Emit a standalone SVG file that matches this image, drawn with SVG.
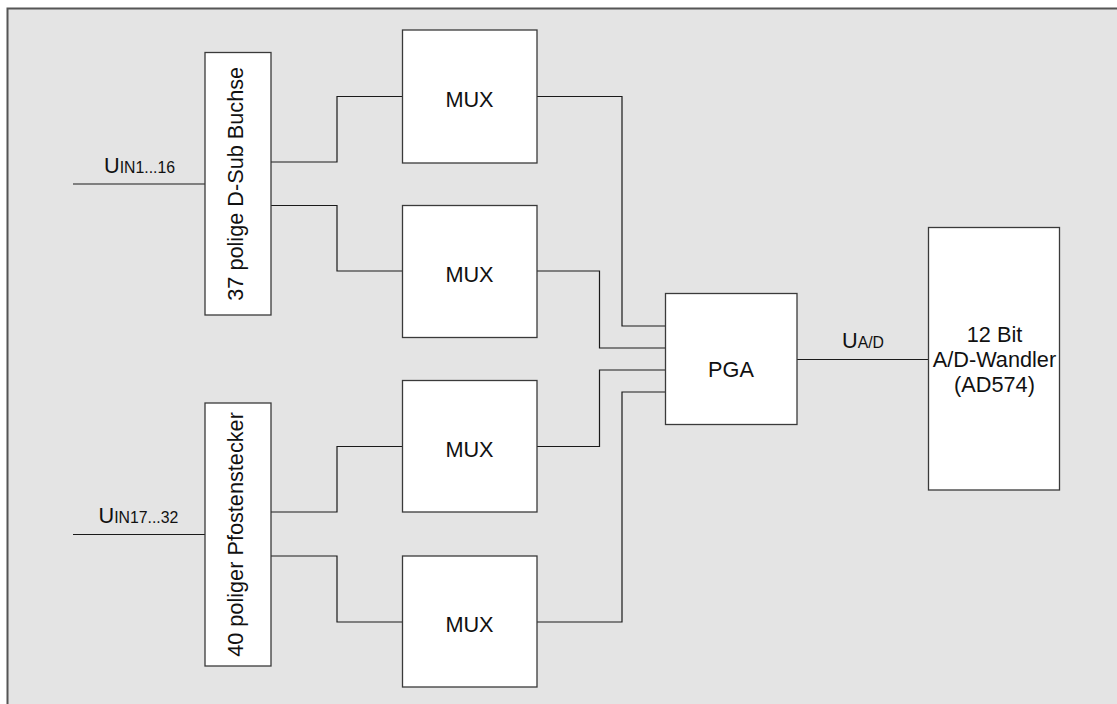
<svg xmlns="http://www.w3.org/2000/svg" width="1117" height="704" viewBox="0 0 1117 704">
<style>
.box{fill:#ffffff;stroke:#3a3a3a;stroke-width:1.3}
.wire{fill:none;stroke:#1a1a1a;stroke-width:1.2}
.t{font-family:"Liberation Sans",Arial,sans-serif;font-size:21.7px;fill:#111}
.s{font-size:15.8px}
</style>
<rect x="0" y="0" width="1117" height="704" fill="#ffffff"/>
<rect x="8" y="9" width="1109" height="695" fill="#e4e4e4"/>
<path d="M7.5 704 V8.5 H1117" fill="none" stroke="#555" stroke-width="2"/>

<g id="connectors">
<path class="wire" d="M73 184 H205"/>
<path class="wire" d="M73 534.5 H205"/>
<path class="wire" d="M271 162 H337 V96.5 H403"/>
<path class="wire" d="M271 205.5 H337 V271 H403"/>
<path class="wire" d="M271 512 H337 V446.5 H403"/>
<path class="wire" d="M271 556 H337 V622 H403"/>
<path class="wire" d="M537 96.5 H622 V326 H665"/>
<path class="wire" d="M537 271 H599.5 V348 H665"/>
<path class="wire" d="M537 446.5 H599.5 V370 H665"/>
<path class="wire" d="M537 622 H622 V392 H665"/>
<path class="wire" d="M797 359.5 H928"/>
<text class="t" x="104" y="172.5">U<tspan class="s">IN1...16</tspan></text>
<text class="t" x="98.5" y="523">U<tspan class="s">IN17...32</tspan></text>
<text class="t" x="842" y="347.5">U<tspan class="s">A/D</tspan></text>
</g>

<g id="dsub">
<rect class="box" x="205" y="52.5" width="66" height="262.5"/>
<text class="t" transform="translate(243.3,183.8) rotate(-90)" text-anchor="middle">37 polige D-Sub Buchse</text>
</g>
<g id="pfosten">
<rect class="box" x="205" y="403" width="66" height="263"/>
<text class="t" transform="translate(243.3,534.5) rotate(-90)" text-anchor="middle">40 poliger Pfostenstecker</text>
</g>
<g id="mux1">
<rect class="box" x="402.5" y="30" width="134.5" height="133"/>
<text class="t" x="469.5" y="106.5" text-anchor="middle">MUX</text>
</g>
<g id="mux2">
<rect class="box" x="402.5" y="205.5" width="134.5" height="132"/>
<text class="t" x="469.5" y="281.5" text-anchor="middle">MUX</text>
</g>
<g id="mux3">
<rect class="box" x="402.5" y="380.5" width="134.5" height="131.5"/>
<text class="t" x="469.5" y="456.5" text-anchor="middle">MUX</text>
</g>
<g id="mux4">
<rect class="box" x="402.5" y="556" width="134.5" height="131"/>
<text class="t" x="469.5" y="632" text-anchor="middle">MUX</text>
</g>
<g id="pga">
<rect class="box" x="665.5" y="293.5" width="131.5" height="131"/>
<text class="t" x="731" y="376.5" text-anchor="middle">PGA</text>
</g>
<g id="adc">
<rect class="box" x="928.5" y="227.5" width="131" height="262.5"/>
<text class="t" x="994.5" y="341.5" text-anchor="middle">12 Bit</text>
<text class="t" x="994.5" y="366.5" text-anchor="middle">A/D-Wandler</text>
<text class="t" x="994.5" y="391.5" text-anchor="middle">(AD574)</text>
</g>
</svg>
